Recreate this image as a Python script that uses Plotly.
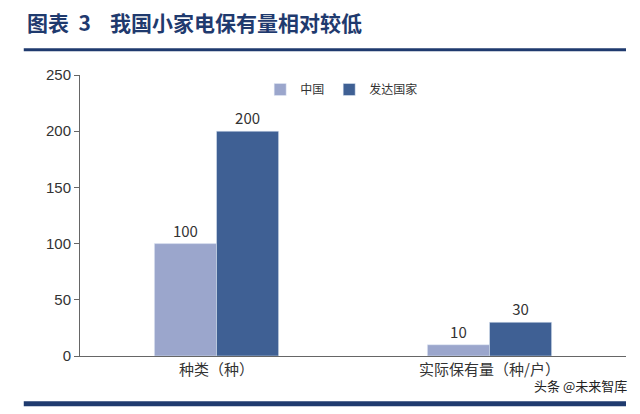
import plotly.graph_objects as go

categories = ["种类（种）", "实际保有量（种/户）"]
china = [100, 10]
developed = [200, 30]
y_ticks = [0, 50, 100, 150, 200, 250]

fig = go.Figure()
fig.add_trace(go.Bar(x=categories, y=china, name="中国", marker_color="#9BA6CC",
                     text=china, textposition="outside", textfont=dict(size=15, color="#333")))
fig.add_trace(go.Bar(x=categories, y=developed, name="发达国家", marker_color="#3F6094",
                     text=developed, textposition="outside", textfont=dict(size=15, color="#333")))

fig.update_layout(
    width=640, height=414,
    margin=dict(l=72, r=22, t=67, b=66),
    plot_bgcolor="white", paper_bgcolor="white",
    barmode="group", bargap=0.545, bargroupgap=0,
    font=dict(family="Noto Sans CJK SC, Arial", size=14, color="#333"),
    legend=dict(orientation="h", x=0.33, y=1.0, xanchor="left", yanchor="top",
                font=dict(size=12), itemwidth=30, traceorder="normal"),
    xaxis=dict(showline=True, linecolor="#666", ticks="", tickfont=dict(size=15)),
    yaxis=dict(range=[0, 250], tickvals=y_ticks, showline=True, linecolor="#666",
               ticks="outside", ticklen=5, tickcolor="#666", showgrid=False,
               tickfont=dict(family="Arial", size=15)),
    showlegend=True,
)
fig.update_traces(cliponaxis=False)

fig.add_annotation(xref="paper", yref="paper", x=-0.1, y=1.19, xanchor="left", yanchor="middle",
                   text="<b>图表  3    我国小家电保有量相对较低</b>", showarrow=False,
                   font=dict(size=21, color="#1F3A6E", family="Noto Sans CJK SC"))
fig.add_shape(type="line", xref="paper", yref="paper", x0=-0.103, x1=1.0, y0=1.09, y1=1.09,
              line=dict(color="#1F3A6E", width=3))
fig.add_shape(type="line", xref="paper", yref="paper", x0=-0.103, x1=1.0, y0=-0.17, y1=-0.17,
              line=dict(color="#1F3A6E", width=5))
fig.add_annotation(xref="paper", yref="paper", x=1.005, y=-0.105, xanchor="right", yanchor="middle",
                   text="头条 @未来智库", showarrow=False,
                   font=dict(size=13, color="#222"))

fig.write_html("out.html")
